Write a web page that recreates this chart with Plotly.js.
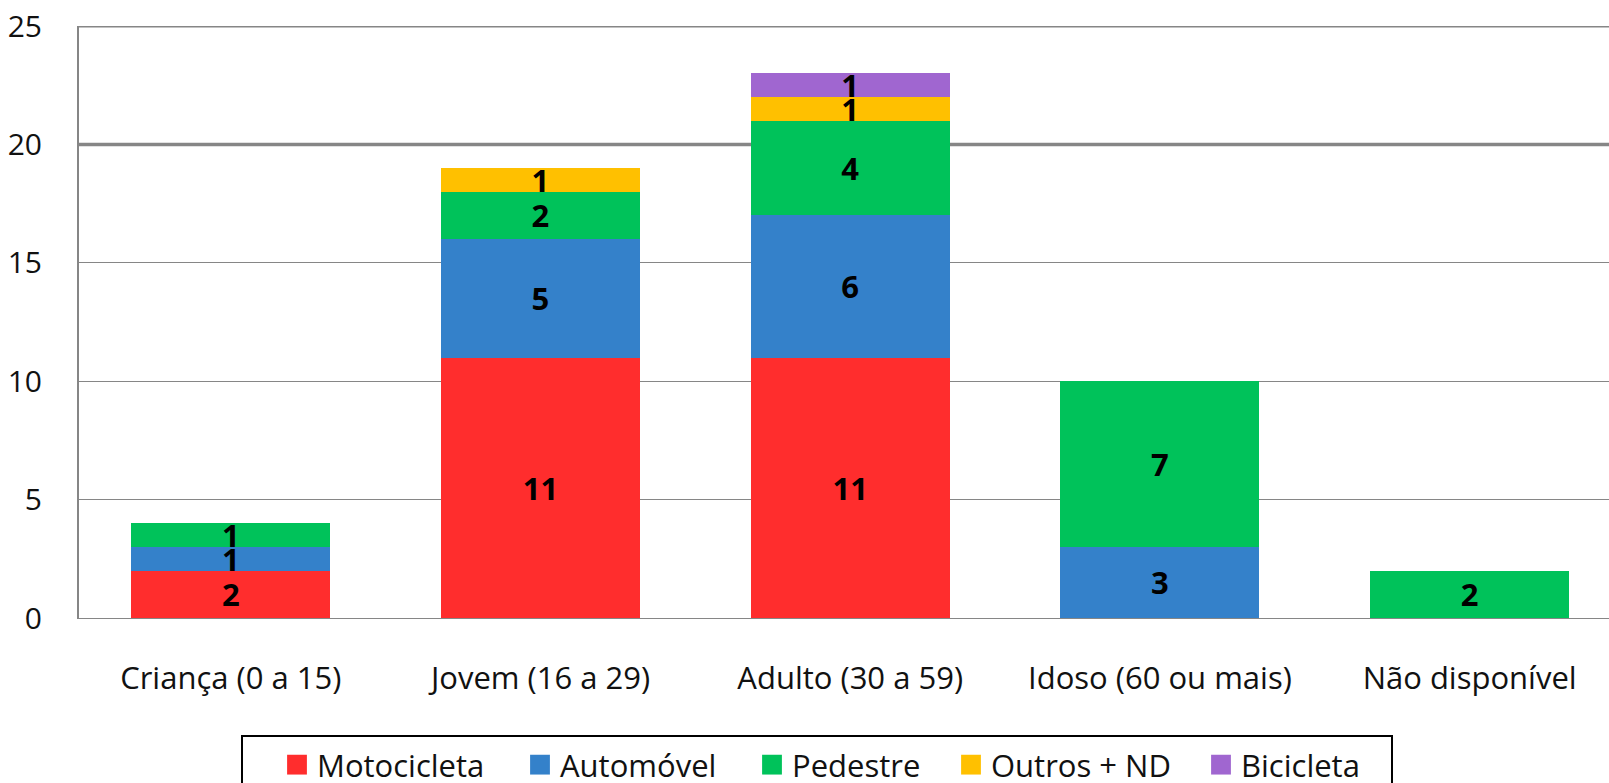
<!DOCTYPE html>
<html><head><meta charset="utf-8">
<script src="https://cdn.plot.ly/plotly-3.0.1.min.js"></script>
<style>html,body{margin:0;padding:0;background:#fff;overflow:hidden}#chart{width:1609px;height:783px}</style>
</head><body><div id="chart"></div>
<script>
// ---- data ----
const categories = ['Criança (0 a 15)', 'Jovem (16 a 29)', 'Adulto (30 a 59)', 'Idoso (60 ou mais)', 'Não disponível'];
const motocicleta = [2, 11, 11, null, null];
const automovel   = [1, 5, 6, 3, null];
const pedestre    = [1, 2, 4, 7, 2];
const outrosND    = [null, 1, 1, null, null];
const bicicleta   = [null, null, 1, null, null];
const seriesNames = ['Motocicleta', 'Automóvel', 'Pedestre', 'Outros + ND', 'Bicicleta'];
const yTicks = [0, 5, 10, 15, 20, 25];

// ---- styles ----
const seriesColors = ['#FF2D2D', '#3481CA', '#00C25A', '#FFC000', '#A066D0'];
const W = 1609, H = 783;
const mL = 79, mR = 0, mT = 25.5, mB = 165;
const plotW = W - mL - mR, plotH = H - mT - mB;
const FONT = 'Open Sans, Lato, sans-serif';
const gridCol = '#868686';
const legendTextStarts = [317, 560, 792, 991, 1241];
const legendNames = ['legend', 'legend2', 'legend3', 'legend4', 'legend5'];

const seriesValues = [motocicleta, automovel, pedestre, outrosND, bicicleta];
const traces = seriesValues.map((vals, i) => ({
  type: 'bar',
  name: seriesNames[i],
  x: categories,
  y: vals,
  legend: legendNames[i],
  marker: {color: seriesColors[i], line: {width: 0}},
  texttemplate: '%{y}',
  textposition: 'inside',
  insidetextanchor: 'middle',
  textangle: 0,
  constraintext: 'none',
  textfont: {family: FONT, size: 31, color: '#000', weight: 'bold'},
  hoverinfo: 'skip'
}));

const layout = {
  width: W, height: H,
  margin: {l: mL, r: mR, t: mT, b: mB, autoexpand: false},
  paper_bgcolor: '#fff', plot_bgcolor: '#fff',
  font: {family: FONT, size: 30, color: '#000'},
  barmode: 'stack',
  bargap: 0.357,
  xaxis: {
    type: 'category',
    range: [-0.49, 4.45],
    showgrid: false, zeroline: false,
    showline: true, linecolor: gridCol, linewidth: 1,
    ticks: '', ticklabelstandoff: 33,
    tickfont: {family: FONT, size: 31, color: '#111'},
    fixedrange: true
  },
  yaxis: {
    range: [0, 25],
    tickvals: yTicks,
    ticktext: yTicks.map(String),
    showgrid: true, gridcolor: gridCol, gridwidth: 1,
    zeroline: false,
    showline: true, linecolor: gridCol, linewidth: 2,
    ticks: '', ticklabelstandoff: 29,
    tickfont: {family: FONT, size: 30, color: '#111'},
    fixedrange: true
  },
  shapes: [
    {type: 'line', xref: 'paper', yref: 'y', x0: 0, x1: 1, y0: 20, y1: 20, line: {color: gridCol, width: 3.5}, layer: 'below'},
    {type: 'line', xref: 'paper', yref: 'y', x0: 0, x1: 1, y0: 25, y1: 25, line: {color: gridCol, width: 3}, layer: 'below'},
    {type: 'rect', xref: 'paper', yref: 'paper',
     x0: (242 - mL) / plotW, x1: (1392 - mL) / plotW,
     y0: (H - mB - 736) / plotH, y1: (H - mB - 812) / plotH,
     line: {color: '#000', width: 2}, fillcolor: 'rgba(0,0,0,0)', layer: 'above'}
  ],
  showlegend: true
};

legendNames.forEach((ln, i) => {
  layout[ln] = {
    orientation: 'h',
    xref: 'container', yref: 'container',
    x: (legendTextStarts[i] - 40) / W, xanchor: 'left',
    y: 1 - 765 / H, yanchor: 'middle',
    bgcolor: 'rgba(0,0,0,0)', borderwidth: 0,
    font: {family: FONT, size: 31, color: '#111'}
  };
});

Plotly.newPlot('chart', traces, layout, {displayModeBar: false, staticPlot: true}).then(() => {
  document.querySelectorAll('.legendpoints path').forEach(p => {
    const t = p.getAttribute('transform') || '';
    p.setAttribute('transform', t + ' scale(1.65)');
  });
});
</script>
</body></html>
